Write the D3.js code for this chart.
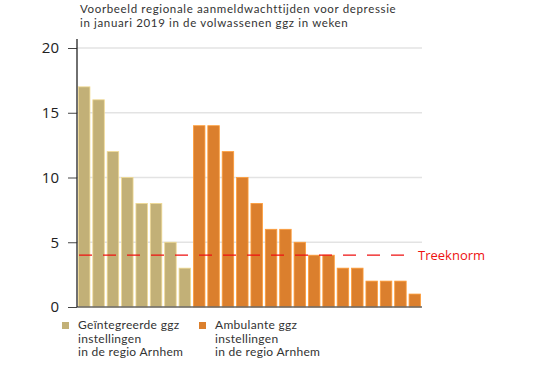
<!DOCTYPE html>
<html>
<head>
<meta charset="utf-8">
<script src="https://cdn.jsdelivr.net/npm/d3@7"></script>
<style>
  body { margin: 0; background: #fff; }
  svg text { font-family: "Lato", "Open Sans", sans-serif; }
</style>
</head>
<body>
<svg id="chart" width="542" height="367"></svg>
<script>
// Wait times in weeks, per institution
const integratedValues = [17, 16, 12, 10, 8, 8, 5, 3];
const ambulantValues = [14, 14, 12, 10, 8, 6, 6, 5, 4, 4, 3, 3, 2, 2, 2, 1];
const yTicks = [0, 5, 10, 15, 20];
const normValue = 4;
const titleLines = [
  "Voorbeeld regionale aanmeldwachttijden voor depressie",
  "in januari 2019 in de volwassenen ggz in weken"
];
const legendItems = [
  { key: "integrated", lines: ["Geïntegreerde ggz", "instellingen", "in de regio Arnhem"] },
  { key: "ambulant", lines: ["Ambulante ggz", "instellingen", "in de regio Arnhem"] }
];

const colors = { integrated: "#c2b077", ambulant: "#db7f2d" };

// Build one flat list of bars
const bars = [];
integratedValues.forEach((v, i) => bars.push({ id: "g" + i, value: v, group: "integrated" }));
ambulantValues.forEach((v, i) => bars.push({ id: "a" + i, value: v, group: "ambulant" }));

const svg = d3.select("#chart");
const plot = { left: 77, right: 422, top: 48, bottom: 307 };

const x = d3.scaleBand()
  .domain(bars.map(d => d.id))
  .range([plot.left, plot.right])
  .paddingInner(0.2)
  .paddingOuter(0.1);

const y = d3.scaleLinear()
  .domain([0, 20])
  .range([plot.bottom, plot.top]);

// Title
svg.append("g")
  .selectAll("text")
  .data(titleLines)
  .join("text")
  .attr("x", 80)
  .attr("y", (d, i) => 13 + i * 13.5)
  .attr("font-size", 11.5)
  .attr("letter-spacing", 0.65)
  .attr("fill", "#333")
  .text(d => d);

// Gridlines
svg.append("g")
  .selectAll("line")
  .data(yTicks.filter(t => t > 0))
  .join("line")
  .attr("x1", plot.left)
  .attr("x2", plot.right)
  .attr("y1", d => y(d))
  .attr("y2", d => y(d))
  .attr("stroke", "#e3e3e3")
  .attr("stroke-width", 1.5);

// Bars
svg.append("g")
  .selectAll("rect")
  .data(bars)
  .join("rect")
  .attr("x", d => x(d.id))
  .attr("y", d => y(d.value))
  .attr("width", x.bandwidth())
  .attr("height", d => y(0) - y(d.value))
  .attr("fill", d => colors[d.group])
  .attr("stroke", d => d3.color(colors[d.group]).brighter(0.6))
  .attr("stroke-width", 0.8);

// Baseline
svg.append("line")
  .attr("x1", plot.left)
  .attr("x2", plot.right)
  .attr("y1", y(0))
  .attr("y2", y(0))
  .attr("stroke", "#666")
  .attr("stroke-width", 1.5);

// Y axis
const yAxis = svg.append("g")
  .attr("transform", `translate(${plot.left},0)`)
  .call(d3.axisLeft(y).tickValues(yTicks).tickSize(9).tickPadding(9));
yAxis.select(".domain").remove();
yAxis.selectAll(".tick line").attr("stroke", "#444");
yAxis.selectAll(".tick text")
  .attr("font-size", 15)
  .attr("fill", "#222")
  .style("font-family", "Open Sans, sans-serif");
svg.append("line")
  .attr("x1", plot.left)
  .attr("x2", plot.left)
  .attr("y1", 39)
  .attr("y2", plot.bottom)
  .attr("stroke", "#222")
  .attr("stroke-width", 1.3);

// Treeknorm line
svg.append("line")
  .attr("x1", plot.left + 2)
  .attr("x2", 412)
  .attr("y1", y(normValue))
  .attr("y2", y(normValue))
  .attr("stroke", "#ee1111")
  .attr("stroke-width", 1.3)
  .attr("stroke-dasharray", "13,11");
svg.append("text")
  .attr("x", 418)
  .attr("y", y(normValue) + 5)
  .attr("font-size", 13)
  .attr("fill", "#ee1111")
  .style("font-family", "Open Sans, sans-serif")
  .text("Treeknorm");

// Legend
const legend = svg.append("g")
  .selectAll("g")
  .data(legendItems)
  .join("g")
  .attr("transform", (d, i) => `translate(${62 + i * 137},322)`);
legend.append("rect")
  .attr("width", 7)
  .attr("height", 7)
  .attr("fill", d => colors[d.key]);
legend.selectAll("text")
  .data(d => d.lines)
  .join("text")
  .attr("x", 16)
  .attr("y", (d, i) => 7 + i * 13.5)
  .attr("font-size", 12)
  .attr("letter-spacing", 0.3)
  .attr("fill", "#333")
  .text(d => d);
</script>
</body>
</html>
